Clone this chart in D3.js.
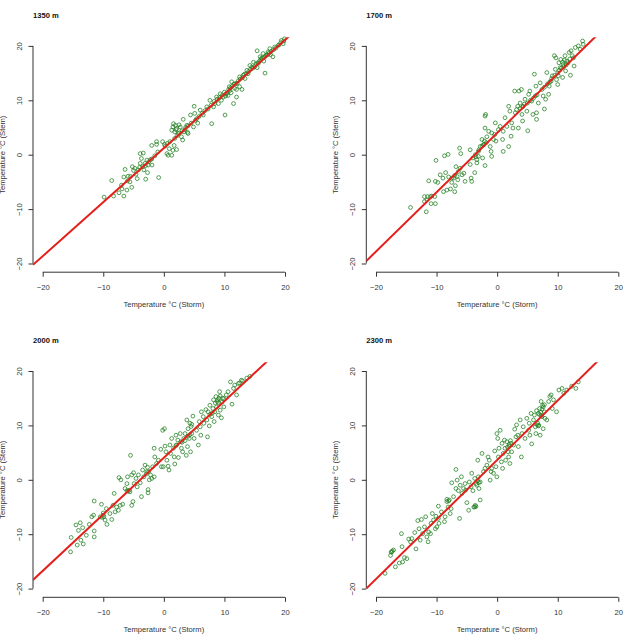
<!DOCTYPE html>
<html>
<head>
<meta charset="utf-8">
<script src="https://cdn.jsdelivr.net/npm/d3@7"></script>
<style>
  body { margin: 0; background: #fff; }
  svg { display: block; font-family: "Liberation Sans", Arial, Helvetica, sans-serif; }
</style>
</head>
<body>
<div id="chart"></div>
<script>
// station titles, axis ticks and regression lines (stem = a + b * storm)
const titles = ["1350 m", "1700 m", "2000 m", "2300 m"];
const axisTicks = [-20, -10, 0, 10, 20];
const lineIntercepts = [1.22, 4.0, 4.05, 3.64];
const lineSlopes = [0.994, 1.09, 1.04, 1.095];

// [storm, stem] pairs
const pts1350 = [
  [-9.87,-7.8],[-8.6,-4.75],[-8.3,-7.6],[-7.4,-7.0],[-6.6,-7.6],[-6.1,-6.5],[-6.9,-6.3],[-6.4,-2.7],
  [-6.6,-4.1],[-5.9,-3.95],[-5.3,-6.0],[-5.6,-5.0],[-5.2,-2.2],[-4.8,-2.5],[-4.4,-4.4],[-3.9,0.2],
  [-3.4,0.3],[-3.7,-0.7],[-3.9,-1.6],[-3.1,-1.6],[-2.8,-1.0],[-2.6,-1.9],[-3.3,-2.8],[-3.0,-4.5],
  [-2.7,-3.3],[-2.0,1.7],[-1.95,-1.9],[-2.2,-0.9],[-0.85,-4.2],[-1.2,1.9],[-1.2,2.4],[-0.2,2.4],
  [0.1,1.9],[0.5,0.2],[0.7,-0.1],[0.9,1.1],[1.3,-0.1],[1.5,0.8],[1.7,1.7],[2.1,0.95],[1.5,5.1],
  [1.6,5.7],[1.3,4.5],[1.8,4.2],[2.1,4.8],[2.4,3.9],[2.7,5.1],[2.9,3.3],[3.1,2.7],[3.3,4.2],
  [3.2,6.5],[3.8,5.4],[4.0,3.9],[4.4,7.3],[5.0,8.9],[4.9,5.1],[5.1,7.6],[5.4,6.6],[5.6,5.8],
  [6.0,8.2],[6.5,7.3],[7.1,8.8],[7.6,10.0],[7.9,5.7],[8.2,8.8],[8.4,9.4],[8.7,10.6],[9.0,9.4],
  [9.3,11.2],[9.5,10.0],[9.8,10.6],[10.1,7.3],[10.3,11.2],[10.6,10.9],[10.9,11.8],[10.8,12.5],
  [11.2,13.4],[11.5,9.4],[11.7,12.2],[12.0,10.6],[12.1,13.1],[12.5,14.3],[12.9,12.0],[13.1,14.6],
  [13.7,15.5],[13.9,14.9],[14.2,16.4],[14.5,16.1],[14.8,17.0],[15.4,19.1],[15.6,16.8],[15.9,18.0],
  [16.1,17.7],[16.4,18.6],[16.7,15.0],[17.0,18.3],[17.2,18.9],[17.5,19.5],[18.0,18.0],[18.3,19.8],
  [18.9,20.1],[19.4,21.0],[19.7,20.4],[19.9,21.3],
  [9.2,10.5],[9.6,10.9],[10.0,11.5],[10.4,11.3],[10.7,12.0],[11.0,12.3],[11.3,12.6],[11.6,13.0],
  [11.9,13.1],[12.3,13.6],[12.6,13.9],[13.0,14.2],[13.3,14.8],[13.6,14.9],[14.0,15.3],[14.3,15.7],
  [14.7,15.9],[15.0,16.2],[15.2,16.7],[15.5,16.9],[15.8,17.2],[16.0,17.5],[16.3,17.8],[16.6,17.9],
  [16.8,18.2],[17.1,18.4],[17.4,18.7],[17.7,19.0],[18.1,19.3],[18.5,19.6],[19.0,20.2],[19.3,20.6],
  [19.8,20.9],[1.8,3.0],[2.2,3.5],[2.6,4.0],[3.0,4.4],[3.5,4.6],[4.0,5.3],[4.5,5.8],[5.2,6.3],
  [5.8,7.0],[6.3,7.6],[6.8,8.1],[7.3,8.4],[7.8,9.1],[8.3,9.8],[8.8,10.2],[0.2,1.6],[0.6,2.1],
  [1.0,2.4],[-1.5,-0.2],[-2.0,-0.8],[-2.5,-1.3],[-3.5,-2.2],[-4.2,-2.8],[-4.6,-3.6],[-5.0,-2.9],
  [-5.5,-4.0],[-6.0,-4.8],[-7.0,-5.6],[-4.0,-2.3],[-3.0,-2.0],[-1.0,0.5],[1.9,5.4],[2.0,4.6],
  [2.5,5.5],[3.6,5.0],[3.9,4.1],[10.2,10.8],[11.1,11.4],[12.0,12.0],[12.5,12.5],[13.4,14.0],
  [15.4,16.0],[16.5,17.2],[17.6,18.4]
];

const pts1700 = [
  [-14.3,-9.7],[-11.7,-10.5],[-11.3,-4.8],[-12.0,-7.7],[-12.0,-8.6],[-11.6,-8.3],[-11.0,-7.7],
  [-10.9,-9.0],[-10.3,-7.7],[-10.2,-9.0],[-10.1,-1.05],[-10.2,-4.9],[-9.8,-5.1],[-9.4,-3.7],
  [-8.95,-4.3],[-8.7,-0.2],[-8.5,-3.3],[-8.1,0.06],[-8.85,-6.8],[-8.3,-6.5],[-8.0,-4.1],[-7.7,-6.3],
  [-7.5,-5.1],[-7.2,-4.3],[-7.0,-6.8],[-6.9,-5.7],[-6.8,-2.2],[-6.6,-4.0],[-6.4,-3.1],[-6.5,-4.6],
  [-6.2,1.2],[-6.1,-2.5],[-5.8,-3.7],[-5.5,-3.4],[-5.3,-4.9],[-6.0,0.2],[-4.45,0.9],[-4.45,-1.8],
  [-4.3,-4.3],[-4.2,-4.9],[-3.7,-3.3],[-3.6,0],[-3.35,-0.9],[-3.35,-1.5],[-3.1,-0.3],[-3.1,0.6],
  [-2.8,1.5],[-2.5,2.8],[-2.4,-0.6],[-2.25,1.85],[-2.1,2.5],[-2.0,4.9],[-2.0,7.1],[-1.9,7.4],
  [-2.0,-2.0],[-1.7,3.3],[-1.4,4.3],[-1.15,1.5],[-1.0,0.6],[-0.9,-0.3],[-0.9,4.0],[-0.6,2.8],
  [-0.4,3.7],[-0.3,5.85],[-0.2,2.5],[0.2,4.6],[0.5,5.2],[0.9,2.8],[1.0,0.6],[1.0,4.3],[1.3,6.8],
  [1.6,5.2],[1.9,1.5],[1.9,8.9],[2.1,8.0],[2.3,3.4],[2.4,5.85],[2.6,4.9],[2.9,11.7],[3.0,7.7],
  [3.2,8.3],[3.4,8.9],[3.5,4.9],[3.6,11.7],[3.8,9.5],[4.0,12.0],[4.1,7.4],[4.2,6.2],[4.3,8.9],
  [4.6,10.2],[4.9,8.0],[5.05,4.4],[5.2,11.1],[5.4,11.7],[5.7,9.85],[5.9,7.4],[6.15,14.8],[6.3,10.8],
  [6.4,12.6],[6.5,7.7],[6.5,6.5],[6.8,9.5],[7.1,13.2],[7.4,12.0],[7.6,10.8],[7.8,8.4],[8.0,10.2],
  [8.2,15.1],[8.5,11.1],[8.6,12.6],[8.9,13.5],[9.1,14.5],[9.45,18.2],[9.6,15.7],[9.7,17.8],
  [9.8,13.8],[10.0,12.9],[10.1,14.5],[10.2,16.9],[10.4,16.0],[10.5,17.5],[10.8,14.2],[10.9,16.6],
  [11.2,18.2],[11.3,15.4],[11.5,17.2],[11.9,18.8],[12.1,14.6],[12.2,19.1],[12.6,17.8],[12.7,16.3],
  [12.9,19.7],[13.4,20.0],[13.7,19.4],[14.1,20.9],[14.2,20.3],
  [9.0,14.0],[9.5,14.6],[10.0,15.0],[10.3,15.5],[10.6,15.9],[11.0,16.2],[11.4,16.5],[11.7,16.9],
  [10.8,17.0],[11.1,17.4],[12.0,17.6],[12.4,18.2],[7.8,12.4],[8.3,13.0],[8.7,13.4],[5.0,9.5],
  [5.5,10.0],[6.0,10.4],[6.6,11.0],[3.8,8.5],[4.2,8.8],[4.5,9.3],[-2.5,1.6],[-2.2,1.8],[-1.8,2.2],
  [-3.0,0.9],[-3.5,-0.4],[-4.0,-0.6],[-7.0,-3.8],[-7.5,-4.3],[-10.8,-7.6],[-11.5,-7.7]
];

const pts2000 = [
  [-15.4,-13.25],[-15.3,-10.6],[-14.5,-8.3],[-14.3,-12.0],[-14.1,-9.3],[-13.8,-7.9],[-13.7,-11.1],
  [-13.3,-11.8],[-13.4,-8.8],[-12.8,-10.2],[-12.3,-8.2],[-11.9,-6.8],[-11.6,-6.5],[-11.5,-9.4],
  [-11.5,-10.5],[-11.5,-3.9],[-10.5,-6.8],[-10.3,-4.5],[-10.0,-6.1],[-9.9,-6.8],[-9.7,-7.4],
  [-9.5,-5.3],[-9.4,-8.2],[-8.9,-6.2],[-8.6,-7.3],[-8.4,-4.7],[-8.2,-2.5],[-8.05,-5.9],[-7.8,-5.0],
  [-7.5,-5.6],[-7.4,0.4],[-7.2,-4.7],[-7.1,0],[-6.8,-4.5],[-6.4,-1.6],[-6.1,-0.7],[-6.0,0.55],
  [-5.7,-1.9],[-5.6,-2.2],[-5.5,4.5],[-5.3,0.9],[-5.3,-4.7],[-5.1,-4.0],[-5.0,1.3],[-4.9,-0.7],
  [-4.6,0.25],[-4.4,-1.3],[-4.2,0.9],[-3.9,-0.55],[-3.7,-3.1],[-3.5,1.8],[-3.3,0.55],[-3.1,2.7],
  [-2.8,1.5],[-2.7,2.3],[-2.6,-1.8],[-2.6,-2.4],[-2.4,0],[-2.2,0.9],[-2.0,0.25],[-1.85,2.4],
  [-1.6,0.55],[-1.6,5.8],[-1.5,4.2],[-1.2,3.0],[-0.9,3.6],[-0.5,5.6],[-0.4,2.4],[-0.2,9.1],
  [-0.1,2.4],[0.1,9.4],[0.2,6.2],[0.35,5.15],[0.5,3.6],[0.7,2.5],[0.85,1.8],[1.0,6.4],[1.1,4.85],
  [1.3,7.6],[1.6,5.8],[1.7,4.2],[1.8,2.9],[2.0,8.2],[2.1,6.4],[2.3,7.3],[2.4,4.1],[2.7,8.5],
  [2.8,7.0],[2.9,5.8],[3.1,5.15],[3.3,7.6],[3.5,8.5],[3.7,4.5],[3.8,11.0],[3.9,6.1],[4.0,9.4],
  [4.2,7.6],[4.3,10.4],[4.4,5.15],[4.6,8.5],[4.8,11.7],[5.0,7.6],[5.4,9.1],[5.7,6.4],[5.85,10.7],
  [6.0,9.75],[6.1,8.2],[6.2,12.5],[6.5,11.6],[6.6,10.4],[6.95,12.9],[7.1,11.0],[7.2,7.9],[7.3,12.5],
  [7.5,9.9],[7.6,13.7],[7.9,11.6],[8.1,13.1],[8.2,14.7],[8.3,10.7],[8.4,12.5],[8.6,15.3],[8.7,13.4],
  [8.8,14.4],[9.0,11.9],[9.2,16.2],[9.3,12.8],[9.5,11.4],[9.7,15.0],[9.9,13.4],[10.3,15.6],
  [10.6,16.2],[11.0,18.0],[11.25,13.9],[11.5,16.8],[11.7,17.4],[12.0,15.6],[12.3,17.7],[12.8,18.3],
  [13.7,18.7],[14.2,19.0],
  [8.5,14.1],[8.9,14.7],[9.1,15.0],[9.3,15.4],[9.0,14.2],[9.6,14.3],[9.9,14.9],[7.6,12.0],[8.0,12.3],
  [4.0,8.0],[4.3,8.3],[4.5,9.8],[4.6,10.2],[3.0,6.9],[3.5,7.2],[2.0,6.3],[-2.5,1.5],[-2.9,1.1],
  [-5.9,-2.1],[-6.1,-2.0],[-10.0,-6.5],[-10.2,-6.9],[12.5,17.8],[13.0,18.2]
];

const pts2300 = [
  [-18.5,-17.2],[-17.6,-13.9],[-17.4,-13.25],[-17.1,-12.9],[-16.8,-16.0],[-16.15,-15.3],[-15.8,-9.9],
  [-15.7,-12.3],[-15.6,-15.1],[-15.3,-14.3],[-14.9,-14.5],[-14.6,-10.9],[-14.3,-11.4],[-14.1,-10.8],
  [-13.6,-9.7],[-13.4,-12.7],[-13.1,-7.5],[-12.9,-9.0],[-12.7,-11.1],[-12.5,-7.3],[-12.3,-9.9],
  [-12.0,-8.65],[-11.8,-6.8],[-11.6,-10.5],[-11.4,-11.4],[-11.3,-9.6],[-11.0,-9.9],[-10.9,-8.0],
  [-10.7,-6.2],[-10.5,-7.4],[-10.2,-9.0],[-10.1,-6.7],[-9.95,-8.65],[-9.7,-4.85],[-9.7,-7.1],
  [-9.6,-8.0],[-9.2,-5.9],[-8.7,-7.7],[-8.6,-6.8],[-8.3,-4.0],[-8.1,-5.0],[-7.9,-3.7],[-7.75,-6.2],
  [-7.6,-5.3],[-7.5,-0.55],[-7.2,-3.1],[-6.8,1.9],[-6.8,-1.6],[-6.6,-0.06],[-6.4,-2.0],[-6.2,-7.1],
  [-6.1,-1.0],[-5.9,0.55],[-5.8,-2.5],[-5.55,-1.6],[-5.3,-0.7],[-5.2,-1.9],[-5.0,-4.2],[-4.7,-5.6],
  [-4.6,-0.4],[-4.3,-1.3],[-4.2,1.2],[-4.0,-2.0],[-3.85,-5.0],[-3.7,0.25],[-3.6,-4.7],[-3.5,-0.7],
  [-3.35,-1.0],[-3.2,3.6],[-3.1,0.55],[-3.0,-1.6],[-2.8,-0.4],[-2.8,-3.7],[-2.5,4.85],[-2.25,1.5],
  [-2.0,2.1],[-1.7,2.7],[-1.5,4.2],[-1.3,3.6],[-1.15,-0.06],[-1.0,1.5],[-0.9,2.1],[-0.6,1.2],
  [-0.4,5.3],[-0.2,2.4],[-0.05,8.5],[-0.05,0.55],[0.1,7.6],[0.2,4.2],[0.3,5.8],[0.5,9.1],[0.7,3.3],
  [0.8,6.7],[0.9,2.1],[1.0,4.85],[1.2,7.3],[1.3,5.8],[1.4,3.6],[1.6,7.0],[1.8,5.15],[1.9,4.2],
  [2.0,6.2],[2.1,3.0],[2.3,6.7],[2.4,5.15],[2.7,6.4],[2.9,9.3],[3.1,7.9],[3.2,10.1],[3.4,8.2],
  [3.5,6.1],[3.8,11.0],[4.0,4.2],[4.1,8.5],[4.3,9.75],[4.6,7.6],[4.9,11.3],[5.2,9.1],[5.3,10.4],
  [5.4,8.2],[5.6,12.2],[5.7,6.6],[6.0,11.0],[6.15,11.9],[6.3,9.75],[6.4,8.5],[6.5,12.7],[6.7,10.4],
  [6.8,9.9],[7.0,13.1],[7.1,8.2],[7.25,14.4],[7.4,11.6],[7.5,13.7],[7.6,9.4],[7.8,12.5],[7.9,11.3],
  [8.2,11.0],[8.5,14.4],[8.7,15.3],[8.9,15.6],[9.1,13.1],[9.3,14.7],[9.8,12.5],[10.2,16.5],
  [10.7,16.8],[11.0,15.9],[11.5,16.5],[12.3,17.2],[13.0,16.8],[13.4,18.0],
  [7.0,12.0],[7.2,12.4],[7.4,13.0],[7.6,13.4],[7.8,13.8],[6.8,12.2],[7.3,11.8],[6.6,10.1],[6.9,10.0],
  [2.0,6.5],[2.2,7.2],[1.7,6.0],[-3.7,-5.0],[-3.5,-4.9],[-8.0,-3.9],[-8.3,-3.6],[-3.2,-0.2],
  [-3.0,-0.5],[-17.3,-13.1],[-17.5,-13.3]
];

const panelData = [pts1350, pts1700, pts2000, pts2300];

const width = 624, height = 639;
const plotW = 261.7, plotH = 235;
const panelLeft = [33, 366.3];
const panelTop = [37.2, 362.3];
const lim = [-21.6, 21.6];
const fmt = d => d < 0 ? "\u2212" + Math.abs(d) : String(d);

const svg = d3.select("#chart").append("svg")
  .attr("width", width)
  .attr("height", height);

panelData.forEach((pts, i) => {
  const col = i % 2, row = Math.floor(i / 2);
  const g = svg.append("g")
    .attr("transform", `translate(${panelLeft[col]},${panelTop[row]})`);

  const x = d3.scaleLinear().domain(lim).range([0, plotW]);
  const y = d3.scaleLinear().domain(lim).range([plotH, 0]);

  g.append("clipPath").attr("id", "clip" + i)
    .append("rect").attr("width", plotW).attr("height", plotH);

  // x axis
  const xa = g.append("g")
    .attr("transform", `translate(0,${plotH})`)
    .call(d3.axisBottom(x).tickValues(axisTicks).tickSize(4.5).tickFormat(fmt));
  xa.select(".domain").remove();
  xa.append("line")
    .attr("x1", x(-20)).attr("x2", x(20))
    .attr("stroke", "#333");
  xa.selectAll(".tick line").attr("stroke", "#333");
  xa.selectAll(".tick text")
    .attr("y", 17.5).attr("dy", null)
    .attr("fill", "#333")
    .style("font-size", "7.6px")
    .style("font-family", "'Liberation Sans', Arial, sans-serif");

  // y axis
  const ya = g.append("g")
    .call(d3.axisLeft(y).tickValues(axisTicks).tickSize(4.5).tickFormat(fmt));
  ya.select(".domain").remove();
  ya.append("line")
    .attr("y1", y(-20)).attr("y2", y(20))
    .attr("stroke", "#333");
  ya.selectAll(".tick line").attr("stroke", "#333");
  ya.selectAll(".tick text")
    .attr("x", null).attr("dy", null)
    .attr("transform", "translate(-11.5,0) rotate(-90)")
    .attr("text-anchor", "middle")
    .attr("fill", "#333")
    .style("font-size", "7.6px")
    .style("font-family", "'Liberation Sans', Arial, sans-serif");

  // points
  g.append("g")
    .selectAll("circle")
    .data(pts)
    .join("circle")
      .attr("cx", d => x(d[0]))
      .attr("cy", d => y(d[1]))
      .attr("r", 1.9)
      .attr("fill", "none")
      .attr("stroke", "#1e7d1e")
      .attr("stroke-width", 0.75);

  // fitted line, clipped to the plot region like abline
  const a = lineIntercepts[i], b = lineSlopes[i];
  g.append("line")
    .attr("clip-path", `url(#clip${i})`)
    .attr("x1", x(lim[0])).attr("y1", y(a + b * lim[0]))
    .attr("x2", x(lim[1])).attr("y2", y(a + b * lim[1]))
    .attr("stroke", "#e3201c")
    .attr("stroke-width", 2);

  // titles and labels
  g.append("text")
    .attr("x", 0).attr("y", -19.5)
    .attr("font-weight", "bold")
    .attr("font-size", 7.6)
    .attr("fill", "#111")
    .text(titles[i]);

  g.append("text")
    .attr("x", x(0)).attr("y", plotH + 35)
    .attr("text-anchor", "middle")
    .attr("font-size", 7.6)
    .attr("fill", "#333")
    .text("Temperature \u00b0C (Storm)");

  g.append("text")
    .attr("transform", `translate(-28.5,${y(0)}) rotate(-90)`)
    .attr("text-anchor", "middle")
    .attr("font-size", 7.6)
    .attr("fill", "#333")
    .text("Temperature \u00b0C (Stem)");
});
</script>
</body>
</html>
